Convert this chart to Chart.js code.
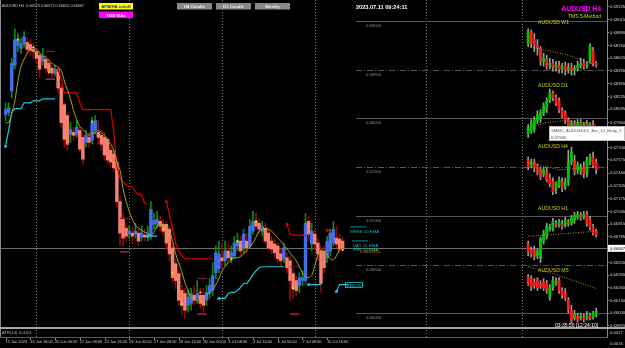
<!DOCTYPE html>
<html>
<head>
<meta charset="utf-8">
<title>AUDUSD H4</title>
<script src="https://cdn.jsdelivr.net/npm/chart.js@4.4.0/dist/chart.umd.min.js"></script>
<style>
    html, body { margin: 0; padding: 0; background: #000; }
    #wrap { position: relative; width: 625px; height: 348px; }
</style>
</head>
<body>
<div id="wrap"><canvas id="mainChart" width="625" height="348"></canvas></div>
<script>
const timeLabels = ['15 Jun 2023', '16 Jun 16:00', '20 Jun 00:00', '21 Jun 08:00', '22 Jun 16:00', '26 Jun 00:00', '27 Jun 08:00',
    '28 Jun 16:00', '30 Jun 00:00', '3 Jul 08:00', '4 Jul 16:00', '6 Jul 00:00', '7 Jul 08:00', '10 Jul 16:00'];

const priceTicks = [0.69145, 0.69015, 0.68880, 0.68750, 0.68620, 0.68490, 0.68355, 0.68225, 0.68095, 0.67960, 0.67830,
    0.67700, 0.67575, 0.67440, 0.67305, 0.67175, 0.67045, 0.66915, 0.66785, 0.66520, 0.66390, 0.66260, 0.66130, 0.66000, 0.65870];

const levelPrices = [0.69000, 0.68500, 0.68000, 0.67500, 0.67000, 0.66500, 0.66000];

// H4 candles (Heiken Ashi style bodies)
const barOpen = [0.68039, 0.68060, 0.68283, 0.68546, 0.68749, 0.68719, 0.68769, 0.68780, 0.68759, 0.68709,
    0.68688, 0.68648, 0.68587, 0.68607, 0.68567, 0.68516, 0.68465, 0.68506, 0.68313, 0.68141,
    0.68029, 0.67837, 0.67857, 0.67837, 0.67877, 0.67806, 0.67755, 0.67806, 0.67776, 0.67877,
    0.67857, 0.67827, 0.67806, 0.67786, 0.67674, 0.67634, 0.67553, 0.67147, 0.66964, 0.66873,
    0.66813, 0.66823, 0.66813, 0.66823, 0.66782, 0.66802, 0.66782, 0.66792, 0.66914, 0.66914,
    0.66944, 0.66914, 0.66914, 0.66863, 0.66671, 0.66509, 0.66407, 0.66234, 0.66204, 0.66082,
    0.66102, 0.66184, 0.66153, 0.66184, 0.66184, 0.66133, 0.66204, 0.66234, 0.66417, 0.66458,
    0.66570, 0.66539, 0.66640, 0.66570, 0.66590, 0.66691, 0.66741, 0.66671, 0.66741, 0.66691,
    0.66843, 0.66944, 0.66924, 0.66843, 0.66873, 0.66823, 0.66741, 0.66711, 0.66691, 0.66610,
    0.66560, 0.66570, 0.66539, 0.66407, 0.66336, 0.66285, 0.66336, 0.66336, 0.66944, 0.66711,
    0.66813, 0.66721, 0.66640, 0.66640, 0.66570, 0.66640, 0.66721, 0.66772, 0.66762, 0.66741];
const barHigh = [0.68161, 0.68161, 0.68617, 0.68921, 0.68871, 0.68820, 0.68891, 0.68830, 0.68810, 0.68769,
    0.68719, 0.68688, 0.68719, 0.68648, 0.68617, 0.68546, 0.68546, 0.68526, 0.68344, 0.68161,
    0.68060, 0.67958, 0.67908, 0.67978, 0.67908, 0.67837, 0.67877, 0.67857, 0.68009, 0.68029,
    0.67978, 0.67877, 0.67857, 0.67806, 0.67705, 0.67674, 0.67603, 0.67198, 0.67025, 0.66924,
    0.66894, 0.66883, 0.66924, 0.66863, 0.66894, 0.66863, 0.66894, 0.67147, 0.67025, 0.67046,
    0.66995, 0.66964, 0.66944, 0.66894, 0.66711, 0.66560, 0.66437, 0.66285, 0.66255, 0.66234,
    0.66255, 0.66285, 0.66336, 0.66255, 0.66255, 0.66285, 0.66356, 0.66519, 0.66691, 0.66741,
    0.66721, 0.66741, 0.66711, 0.66691, 0.66792, 0.66823, 0.66792, 0.66863, 0.66823, 0.66964,
    0.67046, 0.67025, 0.66964, 0.66944, 0.66924, 0.66863, 0.66792, 0.66762, 0.66721, 0.66660,
    0.66721, 0.66620, 0.66590, 0.66458, 0.66387, 0.66417, 0.66437, 0.67025, 0.66995, 0.66924,
    0.66863, 0.66772, 0.66691, 0.66691, 0.66792, 0.66863, 0.66944, 0.66894, 0.66813, 0.66782];
const barLow = [0.67978, 0.68029, 0.68212, 0.68506, 0.68688, 0.68668, 0.68729, 0.68668, 0.68648, 0.68617,
    0.68567, 0.68415, 0.68546, 0.68465, 0.68445, 0.68415, 0.68435, 0.68262, 0.67908, 0.67705,
    0.67674, 0.67755, 0.67776, 0.67806, 0.67654, 0.67532, 0.67705, 0.67705, 0.67735, 0.67837,
    0.67735, 0.67674, 0.67573, 0.67532, 0.67502, 0.67451, 0.67096, 0.66691, 0.66691, 0.66741,
    0.66762, 0.66721, 0.66772, 0.66691, 0.66741, 0.66741, 0.66741, 0.66762, 0.66863, 0.66873,
    0.66843, 0.66792, 0.66660, 0.66539, 0.66316, 0.66255, 0.66082, 0.65981, 0.65950, 0.66011,
    0.66031, 0.66082, 0.66102, 0.66052, 0.66011, 0.66082, 0.66153, 0.66184, 0.66356, 0.66417,
    0.66458, 0.66488, 0.66519, 0.66519, 0.66560, 0.66640, 0.66590, 0.66620, 0.66620, 0.66660,
    0.66813, 0.66863, 0.66813, 0.66792, 0.66711, 0.66640, 0.66610, 0.66570, 0.66519, 0.66488,
    0.66519, 0.66417, 0.66133, 0.66153, 0.66184, 0.66214, 0.66285, 0.66306, 0.66741, 0.66640,
    0.66660, 0.66539, 0.66214, 0.66417, 0.66519, 0.66590, 0.66691, 0.66671, 0.66620, 0.66640];
const barClose = [0.68090, 0.68110, 0.68567, 0.68810, 0.68810, 0.68769, 0.68840, 0.68709, 0.68698, 0.68688,
    0.68617, 0.68506, 0.68638, 0.68516, 0.68486, 0.68465, 0.68506, 0.68313, 0.67958, 0.67786,
    0.67735, 0.67887, 0.67827, 0.67908, 0.67684, 0.67583, 0.67827, 0.67755, 0.67958, 0.67978,
    0.67806, 0.67735, 0.67624, 0.67573, 0.67553, 0.67492, 0.67147, 0.66823, 0.66772, 0.66792,
    0.66843, 0.66792, 0.66843, 0.66741, 0.66823, 0.66782, 0.66813, 0.67066, 0.66954, 0.66964,
    0.66894, 0.66843, 0.66721, 0.66610, 0.66366, 0.66336, 0.66133, 0.66082, 0.66031, 0.66163,
    0.66204, 0.66133, 0.66204, 0.66102, 0.66082, 0.66214, 0.66285, 0.66387, 0.66620, 0.66610,
    0.66539, 0.66640, 0.66570, 0.66620, 0.66721, 0.66741, 0.66640, 0.66813, 0.66671, 0.66894,
    0.66944, 0.66894, 0.66863, 0.66894, 0.66741, 0.66671, 0.66660, 0.66620, 0.66560, 0.66539,
    0.66671, 0.66468, 0.66336, 0.66255, 0.66234, 0.66366, 0.66366, 0.66924, 0.66813, 0.66843,
    0.66711, 0.66610, 0.66306, 0.66468, 0.66741, 0.66823, 0.66863, 0.66711, 0.66660, 0.66667];

// TMS moving average
const maLine = [0.67958, 0.67958, 0.68050, 0.68181, 0.68384, 0.68536, 0.68607, 0.68668, 0.68709, 0.68729,
    0.68709, 0.68668, 0.68648, 0.68627, 0.68597, 0.68567, 0.68546, 0.68526, 0.68496, 0.68384,
    0.68293, 0.68202, 0.68080, 0.67989, 0.67918, 0.67887, 0.67857, 0.67827, 0.67847, 0.67857,
    0.67877, 0.67857, 0.67827, 0.67776, 0.67735, 0.67674, 0.67553, 0.67472, 0.67279, 0.67147,
    0.67046, 0.66964, 0.66904, 0.66873, 0.66853, 0.66833, 0.66823, 0.66802, 0.66833, 0.66894,
    0.66914, 0.66914, 0.66894, 0.66843, 0.66741, 0.66610, 0.66519, 0.66427, 0.66316, 0.66234,
    0.66163, 0.66143, 0.66133, 0.66143, 0.66163, 0.66184, 0.66214, 0.66245, 0.66295, 0.66356,
    0.66437, 0.66478, 0.66519, 0.66549, 0.66570, 0.66570, 0.66580, 0.66610, 0.66650, 0.66681,
    0.66721, 0.66782, 0.66843, 0.66863, 0.66873, 0.66863, 0.66843, 0.66813, 0.66772, 0.66741,
    0.66701, 0.66660, 0.66620, 0.66580, 0.66539, 0.66478, 0.66417, 0.66376, 0.66366, 0.66387,
    0.66488, 0.66599, 0.66650, 0.66630, 0.66599, 0.66560, 0.66549, 0.66590, 0.66660, 0.66721];

// [first bar, values] pieces of the stop lines
const stopSegments = [
    [17, [0.68496, 0.68415, 0.68262, 0.68262, 0.68262, 0.68262, 0.68262, 0.68161, 0.68090, 0.68090,
        0.68090, 0.68090, 0.68090, 0.68090, 0.68090, 0.68090, 0.68090, 0.68090, 0.67857, 0.67502,
        0.67391, 0.67350, 0.67319, 0.67299, 0.67299, 0.67248, 0.67218, 0.67218, 0.67127, 0.67117]],
    [52, [0.67147, 0.67015, 0.66873, 0.66721, 0.66640, 0.66590, 0.66560, 0.66560, 0.66560, 0.66560,
        0.66560, 0.66560, 0.66560, 0.66560, 0.66560, 0.66560]],
    [91, [0.66914, 0.66813, 0.66802, 0.66802, 0.66802, 0.66802, 0.66802]],
    [104, [0.66853, 0.66853]]
];
const trendSegments = [
    [0, [0.67715, 0.67877, 0.68060, 0.68100, 0.68100, 0.68100, 0.68161, 0.68161, 0.68161, 0.68181,
        0.68181, 0.68181, 0.68202, 0.68202, 0.68202, 0.68202, 0.68202]],
    [46, [0.66792, 0.66792, 0.66792, 0.66792]],
    [69, [0.66153, 0.66153, 0.66153, 0.66204, 0.66214, 0.66214, 0.66234, 0.66265, 0.66306, 0.66306,
        0.66346, 0.66397, 0.66437, 0.66468, 0.66478, 0.66478, 0.66478, 0.66478, 0.66478, 0.66478,
        0.66478, 0.66478]],
    [98, [0.66295, 0.66295, 0.66295, 0.66295, 0.66295]],
    [107, [0.66224, 0.66295, 0.66295, 0.66295, 0.66295]]
];
const boxHighSegments = [[13, [0.68688, 0.68688, 0.68688, 0.68688]], [37, [0.66975, 0.66975, 0.66975, 0.66975]],
    [62, [0.66356, 0.66356, 0.66356, 0.66356]], [92, [0.66478, 0.66478, 0.66478, 0.66478]]];
const boxLowSegments = [[13, [0.68404, 0.68404, 0.68404, 0.68404]], [37, [0.66630, 0.66630, 0.66630, 0.66630]],
    [62, [0.65991, 0.65991, 0.65991, 0.65991]], [92, [0.65991, 0.65991, 0.65991, 0.65991]]];
const signalPoints = [[4, 0.68810], [9, 0.68729], [14, 0.68475], [28, 0.67968], [51, 0.66863], [54, 0.66417],
    [57, 0.66092], [63, 0.66214], [73, 0.66560], [75, 0.66741], [81, 0.66944], [93, 0.66255], [109, 0.66650]];

// mini charts on the right, [open, high, low, close]
const w1Bars = [[0.68769, 0.68921, 0.68739, 0.68891], [0.68891, 0.68911, 0.68729, 0.68769], [0.68810, 0.68871, 0.68688, 0.68749],
    [0.68749, 0.68810, 0.68648, 0.68729], [0.68719, 0.68739, 0.68546, 0.68587], [0.68587, 0.68668, 0.68536, 0.68617],
    [0.68607, 0.68648, 0.68506, 0.68536], [0.68546, 0.68617, 0.68506, 0.68567], [0.68567, 0.68607, 0.68486, 0.68526],
    [0.68526, 0.68587, 0.68486, 0.68546], [0.68546, 0.68587, 0.68465, 0.68506], [0.68506, 0.68567, 0.68465, 0.68536],
    [0.68536, 0.68577, 0.68445, 0.68506], [0.68506, 0.68567, 0.68465, 0.68526], [0.68526, 0.68567, 0.68445, 0.68496],
    [0.68496, 0.68546, 0.68445, 0.68516], [0.68516, 0.68587, 0.68486, 0.68546], [0.68546, 0.68617, 0.68516, 0.68567],
    [0.68567, 0.68607, 0.68506, 0.68536], [0.68546, 0.68587, 0.68516, 0.68556], [0.68597, 0.68769, 0.68567, 0.68739],
    [0.68698, 0.68729, 0.68536, 0.68567], [0.68567, 0.68587, 0.68526, 0.68546]];
const d1Bars = [[0.67837, 0.67938, 0.67806, 0.67908], [0.67877, 0.67989, 0.67847, 0.67958], [0.67887, 0.68019, 0.67857, 0.67989],
    [0.67978, 0.68080, 0.67948, 0.68039], [0.67989, 0.68090, 0.67958, 0.68060], [0.68060, 0.68161, 0.68029, 0.68131],
    [0.68090, 0.68212, 0.68060, 0.68181], [0.68181, 0.68303, 0.68161, 0.68262], [0.68262, 0.68283, 0.68181, 0.68212],
    [0.68212, 0.68242, 0.68131, 0.68161], [0.68181, 0.68212, 0.68060, 0.68090], [0.68080, 0.68110, 0.68009, 0.68029],
    [0.68060, 0.68080, 0.67948, 0.67978], [0.67978, 0.68009, 0.67857, 0.67887], [0.67908, 0.67978, 0.67877, 0.67948],
    [0.67948, 0.67978, 0.67877, 0.67908], [0.67918, 0.67989, 0.67887, 0.67958], [0.67958, 0.67989, 0.67887, 0.67918],
    [0.67918, 0.67958, 0.67887, 0.67938], [0.67938, 0.67978, 0.67857, 0.67887], [0.67908, 0.67958, 0.67877, 0.67938],
    [0.67938, 0.67978, 0.67867, 0.67897]];
const h4Bars = [[0.67573, 0.67603, 0.67472, 0.67502], [0.67522, 0.67583, 0.67492, 0.67553], [0.67553, 0.67583, 0.67451, 0.67492],
    [0.67502, 0.67532, 0.67421, 0.67451], [0.67472, 0.67502, 0.67370, 0.67401], [0.67431, 0.67502, 0.67401, 0.67472],
    [0.67451, 0.67492, 0.67350, 0.67370], [0.67391, 0.67431, 0.67299, 0.67330], [0.67350, 0.67391, 0.67218, 0.67248],
    [0.67269, 0.67350, 0.67228, 0.67330], [0.67309, 0.67401, 0.67289, 0.67370], [0.67350, 0.67391, 0.67248, 0.67289],
    [0.67299, 0.67391, 0.67269, 0.67350], [0.67350, 0.67674, 0.67309, 0.67553], [0.67553, 0.67705, 0.67522, 0.67654],
    [0.67573, 0.67624, 0.67421, 0.67451], [0.67472, 0.67553, 0.67431, 0.67522], [0.67451, 0.67532, 0.67421, 0.67502],
    [0.67502, 0.67553, 0.67391, 0.67431], [0.67431, 0.67603, 0.67401, 0.67573], [0.67553, 0.67634, 0.67522, 0.67603],
    [0.67603, 0.67654, 0.67492, 0.67522], [0.67553, 0.67583, 0.67431, 0.67472]];
const h1Bars = [[0.66711, 0.66741, 0.66590, 0.66630], [0.66650, 0.66681, 0.66579, 0.66610], [0.66660, 0.66691, 0.66549, 0.66579],
    [0.66590, 0.66660, 0.66560, 0.66640], [0.66560, 0.66782, 0.66519, 0.66762], [0.66741, 0.66853, 0.66711, 0.66823],
    [0.66792, 0.66924, 0.66762, 0.66894], [0.66863, 0.66914, 0.66843, 0.66883], [0.66863, 0.66975, 0.66843, 0.66944],
    [0.66924, 0.66954, 0.66883, 0.66904], [0.66904, 0.66964, 0.66883, 0.66934], [0.66914, 0.66954, 0.66863, 0.66894],
    [0.66904, 0.66985, 0.66883, 0.66954], [0.66934, 0.66964, 0.66894, 0.66924], [0.66924, 0.67005, 0.66904, 0.66975],
    [0.66954, 0.67036, 0.66924, 0.67005], [0.66985, 0.67046, 0.66964, 0.67015], [0.67005, 0.67036, 0.66954, 0.66985],
    [0.66995, 0.67046, 0.66964, 0.67015], [0.67015, 0.67046, 0.66894, 0.66924], [0.66964, 0.66995, 0.66853, 0.66883],
    [0.66883, 0.66914, 0.66802, 0.66823], [0.66843, 0.66863, 0.66782, 0.66802]];
const m5Bars = [[0.66366, 0.66397, 0.66285, 0.66306], [0.66356, 0.66387, 0.66234, 0.66265], [0.66316, 0.66356, 0.66255, 0.66285],
    [0.66336, 0.66366, 0.66234, 0.66265], [0.66306, 0.66336, 0.66255, 0.66275], [0.66316, 0.66356, 0.66234, 0.66265],
    [0.66306, 0.66336, 0.66204, 0.66234], [0.66163, 0.66295, 0.66133, 0.66265], [0.66265, 0.66376, 0.66234, 0.66336],
    [0.66306, 0.66366, 0.66285, 0.66326], [0.66336, 0.66366, 0.66204, 0.66234], [0.66234, 0.66265, 0.66153, 0.66184],
    [0.66214, 0.66255, 0.66133, 0.66163], [0.66133, 0.66163, 0.66001, 0.66031], [0.66031, 0.66082, 0.65900, 0.65930],
    [0.65950, 0.66031, 0.65930, 0.65991], [0.65971, 0.66001, 0.65910, 0.65930], [0.65950, 0.66001, 0.65930, 0.65971],
    [0.65960, 0.65991, 0.65910, 0.65940], [0.65950, 0.66021, 0.65930, 0.65981], [0.65971, 0.66001, 0.65930, 0.65950],
    [0.65960, 0.66021, 0.65940, 0.66001], [0.65981, 0.66052, 0.65960, 0.66021]];
const w1Avg = [[169, 0.68739], [175, 0.68698], [181, 0.68658], [187, 0.68597], [191, 0.68546]];
const d1Avg = [[169, 0.67908], [175, 0.67958], [181, 0.67978], [187, 0.67958], [191, 0.67938]];
const h4Avg = [[169, 0.67553], [179, 0.67472], [191, 0.67502]];
const h1Avg = [[169, 0.66792], [179, 0.66813], [191, 0.66843]];
const m5Avg = [[169, 0.66478], [179, 0.66387], [191, 0.66255]];

const N = 195;
const miniFirst = 169;
const separatorBars = [10, 40, 70, 100, 136, 167];
const lastPrice = barClose[barClose.length - 1];
const FONT = '"Liberation Sans", Arial, sans-serif';

const barLabels = [];
for (let i = 0; i < N; i++) {
    barLabels.push(i % 8 === 0 && i / 8 < timeLabels.length ? timeLabels[i / 8] : '');
}

function pad(arr) {
    return arr.concat(new Array(N - arr.length).fill(null));
}
function fromSegments(segs) {
    const out = new Array(N).fill(null);
    segs.forEach(([start, vals]) => vals.forEach((v, k) => { out[start + k] = v; }));
    return out;
}
function fromPoints(pts) {
    const out = new Array(N).fill(null);
    pts.forEach(([i, v]) => { out[i] = v; });
    return out;
}
function segmentStartRadius(data, r) {
    return ctx => (data[ctx.dataIndex] != null && (ctx.dataIndex === 0 || data[ctx.dataIndex - 1] == null)) ? r : 0;
}

const isUp = barOpen.map((o, i) => barClose[i] >= o);
const stopData = fromSegments(stopSegments);
const trendData = fromSegments(trendSegments);

const datasets = [
    {
        type: 'bar', data: pad(barLow.map((l, i) => [l, barHigh[i]])),
        backgroundColor: isUp.map(u => u ? '#0c8c0c' : '#8a0a0a'),
        barThickness: 1, grouped: false, order: 6
    },
    {
        type: 'bar', data: pad(barOpen.map((o, i) => [o, barClose[i]])),
        backgroundColor: isUp.map(u => u ? '#416ee6' : '#f7806f'),
        barThickness: 2.8, grouped: false, order: 5
    },
    {
        type: 'line', data: pad(maLine), borderColor: '#aaa21a', borderWidth: 1,
        tension: 0.3, pointRadius: 0, order: 1
    },
    {
        type: 'line', data: stopData, borderColor: '#e00000', borderWidth: 1.2,
        pointRadius: segmentStartRadius(stopData, 1.5), pointBackgroundColor: '#e00000', pointBorderWidth: 0, order: 1
    },
    {
        type: 'line', data: trendData, borderColor: '#1cc6d6', borderWidth: 1.2,
        pointRadius: segmentStartRadius(trendData, 1.5), pointBackgroundColor: '#1cc6d6', pointBorderWidth: 0, order: 1
    },
    {
        type: 'line', data: fromSegments(boxHighSegments), borderColor: '#7e1646', borderWidth: 1.2,
        pointRadius: 0, order: 1
    },
    {
        type: 'line', data: fromSegments(boxLowSegments), borderColor: '#c2306e', borderWidth: 1.2,
        pointRadius: 0, order: 1
    },
    {
        type: 'line', data: fromPoints(signalPoints), showLine: false, pointStyle: 'rect',
        pointRadius: 1.4, pointBackgroundColor: '#e8e800', pointBorderWidth: 0, order: 0
    }
];

const miniCharts = [
    { bars: w1Bars, avg: w1Avg },
    { bars: d1Bars, avg: d1Avg },
    { bars: h4Bars, avg: h4Avg },
    { bars: h1Bars, avg: h1Avg },
    { bars: m5Bars, avg: m5Avg }
];
miniCharts.forEach(m => {
    const body = new Array(N).fill(null);
    const wick = new Array(N).fill(null);
    const colors = new Array(N).fill('#000');
    m.bars.forEach(([o, h, l, c], k) => {
        body[miniFirst + k] = [o, c];
        wick[miniFirst + k] = [l, h];
        colors[miniFirst + k] = c >= o ? '#00c400' : '#ff1a1a';
    });
    datasets.push({ type: 'bar', data: wick, backgroundColor: '#9c9c9c', barThickness: 1, grouped: false, order: 4 });
    datasets.push({ type: 'bar', data: body, backgroundColor: colors, barThickness: 2.2, grouped: false, order: 3 });
    datasets.push({
        type: 'line', data: fromPoints(m.avg), borderColor: '#a99a1c', borderWidth: 1,
        borderDash: [1, 1.5], spanGaps: true, pointRadius: 0, order: 2
    });
});

function txt(c, s, x, y, color, size, opts) {
    opts = opts || {};
    c.font = (opts.bold ? 'bold ' : '') + size + 'px ' + FONT;
    c.fillStyle = color;
    c.textAlign = opts.align || 'left';
    c.textBaseline = 'alphabetic';
    c.fillText(s, x, y);
}
function button(c, x, y, w, h, fill, label, color) {
    c.fillStyle = fill;
    c.fillRect(x, y, w, h);
    txt(c, label, x + w / 2, y + h - 1.5, color, 4.3, { bold: true, align: 'center' });
}

const overlay = {
    id: 'overlay',
    beforeDraw(chart) {
        const c = chart.ctx;
        c.save();
        c.fillStyle = '#000';
        c.fillRect(0, 0, chart.width, chart.height);
        c.restore();
    },
    beforeDatasetsDraw(chart) {
        const c = chart.ctx, x = chart.scales.x, y = chart.scales.y, a = chart.chartArea;
        c.save();
        c.lineWidth = 1;
        c.strokeStyle = '#787878';
        c.setLineDash([1, 2]);
        separatorBars.forEach(i => {
            const px = Math.round(x.getPixelForValue(i)) + 0.5;
            c.beginPath(); c.moveTo(px, 0); c.lineTo(px, 338); c.stroke();
        });
        levelPrices.forEach((p, k) => {
            const py = Math.round(y.getPixelForValue(p)) + 0.5;
            c.strokeStyle = '#555';
            c.setLineDash(k % 2 ? [6, 2, 1, 2] : []);
            c.beginPath(); c.moveTo(356, py); c.lineTo(a.right, py); c.stroke();
            txt(c, p.toFixed(5), 366, py + 5, '#8c8c8c', 4.2);
        });
        c.setLineDash([]);
        const by = Math.round(y.getPixelForValue(lastPrice)) + 0.5;
        c.strokeStyle = '#6e6e6e';
        c.beginPath(); c.moveTo(0, by); c.lineTo(a.right, by); c.stroke();
        c.restore();
    },
    afterDraw(chart) {
        const c = chart.ctx, x = chart.scales.x, y = chart.scales.y, a = chart.chartArea;
        c.save();
        // frame, indicator window
        c.fillStyle = '#8a8a8a';
        c.fillRect(0, 0, 1, 338);
        c.fillRect(a.right, 0, 1, 338);
        c.fillStyle = '#a6a6a6';
        c.fillRect(0, 327, 625, 2);
        c.fillStyle = '#5a5a5a';
        c.fillRect(0, 337, a.right + 1, 1);
        // small time tick marks
        c.fillStyle = '#8a8a8a';
        timeLabels.forEach((s, k) => {
            c.fillRect(Math.round(x.getPixelForValue(k * 8)), 338, 1, 2);
        });
        txt(c, 'ATR(14) 0.0024', 2, 334, '#b0b0b0', 4.2);
        txt(c, '0.0027', 610, 333.5, '#d0d0d0', 4.2);
        txt(c, '0.0016', 610, 345, '#d0d0d0', 4.2);

        // header and buttons
        txt(c, 'AUDUSD,H4  0.66623 0.66672 0.66620 0.66667', 2, 6.5, '#c4c4c4', 3.8);
        button(c, 99, 3, 34, 6.5, '#ffff00', 'APB/HA on/off', '#1a1ad0');
        button(c, 99, 11.5, 34, 6.5, '#ff00ff', 'TMS MAs', '#ffe0ff');
        button(c, 177, 3, 35, 6.5, '#8a8a8a', 'H4 Candle', '#ececec');
        button(c, 216, 3, 35, 6.5, '#8a8a8a', 'D1 Candle', '#ececec');
        button(c, 255, 3, 35, 6.5, '#8a8a8a', 'Weekly', '#ececec');
        txt(c, '2023.07.11 09:24:11', 356, 9, '#ffffff', 5.6, { bold: true });
        txt(c, 'AUDUSD H4', 601, 11, '#ff00ff', 6.8, { bold: true, align: 'right' });
        txt(c, 'TMS 5-Method', 601, 17.5, '#d4d400', 5, { align: 'right' });

        // mini chart titles
        [['AUDUSD W1', 24], ['AUDUSD D1', 86.5], ['AUDUSD H4', 147.5], ['AUDUSD H1', 209.5], ['AUDUSD M5', 272]].forEach(([s, ty]) => {
            txt(c, s, 538, ty, '#cccc00', 5.2);
        });
        txt(c, '03:35:50 [12:24:10]', 555, 327, '#ffffff', 5);

        // indicator labels near price
        c.fillStyle = '#1aa6a6';
        c.fillRect(350, 226.5, 16, 0.8);
        c.fillRect(352, 240.5, 16, 0.8);
        txt(c, 'WEEK 10 EMA', 350, 233, '#22b4b4', 4.3);
        txt(c, 'DAY 10 EMA', 353, 247, '#22b4b4', 4.3);
        txt(c, '4HR 10 EMA', 353, 251, '#22b4b4', 4.3);
        txt(c, '0.66631(5)', 360, 252.5, '#c8841c', 4.3);
        const ty = Math.round(y.getPixelForValue(0.66295));
        c.strokeStyle = '#1cc6d6';
        c.lineWidth = 0.8;
        c.strokeRect(345.5, ty - 2.5, 17, 5);
        txt(c, '0.66295', 346.5, ty + 1.7, '#1cc6d6', 4);

        // object tooltip
        c.fillStyle = '#ffffff';
        c.fillRect(549, 126, 76, 15);
        c.strokeStyle = '#909090';
        c.lineWidth = 0.6;
        c.strokeRect(549.5, 126.5, 75, 14);
        txt(c, 'SMMC_AUDUSDD1_Bar_12_Body_2', 551, 132, '#505050', 4.2);
        txt(c, '0.67940', 551, 138.5, '#505050', 4.2);

        // current price label
        const py = y.getPixelForValue(lastPrice);
        c.fillStyle = '#ffffff';
        c.fillRect(a.right + 1, py - 3.5, 625 - a.right, 7);
        txt(c, lastPrice.toFixed(5), 610, py + 1.6, '#000000', 4.2);
        c.restore();
    }
};

const ctx = document.getElementById('mainChart').getContext('2d');
const mainChart = new Chart(ctx, {
    type: 'bar',
    data: { labels: barLabels, datasets: datasets },
    options: {
        responsive: false,
        animation: false,
        devicePixelRatio: 1,
        layout: { padding: 0 },
        plugins: { legend: { display: false }, tooltip: { enabled: false } },
        scales: {
            x: {
                offset: true,
                grid: { display: false, drawTicks: false },
                border: { display: false },
                ticks: {
                    autoSkip: false, maxRotation: 0, minRotation: 0, align: 'start', padding: 12,
                    color: '#c8c8c8', font: { family: FONT, size: 3.9 },
                    callback: value => barLabels[value] || null
                },
                afterFit: s => { s.height = 20; s.paddingLeft = 0; s.paddingRight = 0; }
            },
            y: {
                position: 'right',
                min: 0.65849,
                max: 0.69175,
                grid: { drawOnChartArea: false, drawTicks: true, tickLength: 2, color: '#9a9a9a' },
                border: { display: true, color: '#8a8a8a' },
                ticks: {
                    padding: 1, color: '#d2d2d2', font: { family: FONT, size: 4.2 },
                    callback: v => v.toFixed(5)
                },
                afterBuildTicks: s => { s.ticks = priceTicks.map(v => ({ value: v })); },
                afterFit: s => { s.width = 18; s.paddingTop = 0; s.paddingBottom = 0; }
            }
        }
    },
    plugins: [overlay]
});
</script>
</body>
</html>
